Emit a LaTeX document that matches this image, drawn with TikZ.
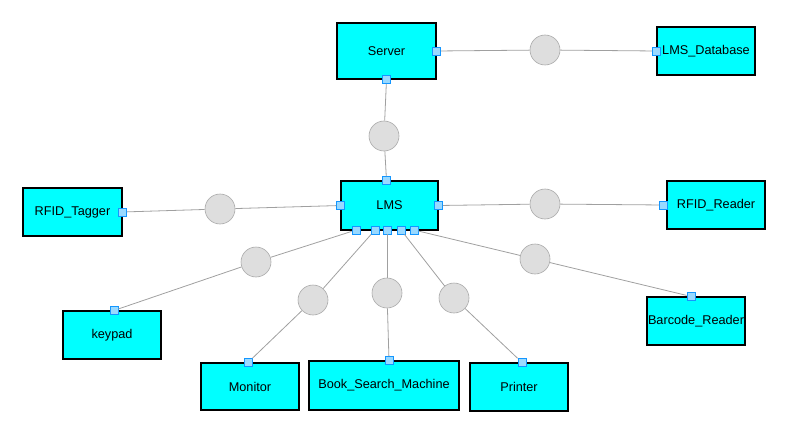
\documentclass[tikz,border=0pt]{standalone}
\usepackage{fontspec}
\setmainfont{Liberation Sans}
\usetikzlibrary{positioning}
\definecolor{boxfill}{RGB}{0,255,255}
\definecolor{portfill}{RGB}{153,217,255}
\definecolor{portline}{RGB}{20,150,255}
\definecolor{linkgray}{RGB}{160,160,160}
\definecolor{hubfill}{RGB}{222,222,222}
\definecolor{hubline}{RGB}{170,170,170}

\begin{document}
\begin{tikzpicture}[x=1pt,y=-1pt,-,
			box/.style={draw=black,line width=1.1pt,fill=boxfill,inner sep=0pt,
				minimum width=98pt,minimum height=48pt,
				font=\fontsize{12.7}{15}\selectfont},
			port/.style={draw=portline,line width=0.8pt,fill=portfill,inner sep=0pt,
				minimum size=8pt},
			hub/.style={circle,draw=hubline,line width=0.6pt,fill=hubfill,inner sep=0pt,
				minimum size=30pt},
			link/.style={draw=linkgray,line width=0.8pt}]
			
			\useasboundingbox (0,0) rectangle (797,441);
			
			% boxes
			\node[box,minimum width=99pt,minimum height=56pt] (server) at (386.5,51) {Server};
			\node[box] (db)     at (706,51)    {LMS\_Database};
			\node[box,minimum width=97pt,minimum height=49pt] (lms) at (389.5,205.5) {LMS};
			\node[box,minimum width=99pt] (tagger) at (72.5,212) {RFID\_Tagger};
			\node[box] (reader) at (716,205)   {RFID\_Reader};
			\node[box] (keypad) at (112,335)   {keypad};
			\node[box,minimum height=47pt] (monitor) at (250,386.5) {Monitor};
			\node[box,minimum width=150pt,minimum height=49pt] (search) at (384,385.5) {Book\_Search\_Machine};
			\node[box] (printer) at (519,387)  {Printer};
			\node[box] (barcode) at (696,321)  {Barcode\_Reader};
			
			% ports
			\node[port] (serverE) at (server.east) {};
			\node[port] (serverS) at (server.south) {};
			\node[port] (dbW)     at (db.west) {};
			\node[port] (lmsN)    at ([xshift=-3pt]lms.north) {};
			\node[port] (lmsW)    at (lms.west) {};
			\node[port] (lmsE)    at (lms.east) {};
			\node[port] (lmsS1)   at (356,230) {};
			\node[port] (lmsS2)   at (375,230) {};
			\node[port] (lmsS3)   at (387,230) {};
			\node[port] (lmsS4)   at (401,230) {};
			\node[port] (lmsS5)   at (414,230) {};
			\node[port] (taggerE) at (tagger.east) {};
			\node[port] (readerW) at ([xshift=-3pt]reader.west) {};
			\node[port] (keypadN) at ([xshift=2pt]keypad.north) {};
			\node[port] (monitorN) at ([xshift=-2pt]monitor.north) {};
			\node[port] (searchN) at ([xshift=5pt]search.north) {};
			\node[port] (printerN) at ([xshift=3pt]printer.north) {};
			\node[port] (barcodeN) at ([xshift=-5pt]barcode.north) {};
			
			% hubs
			\node[hub] (hubDb)      at (545,50)  {};
			\node[hub] (hubServer)  at (384,136) {};
			\node[hub] (hubTagger)  at (220,209) {};
			\node[hub] (hubReader)  at (545,204) {};
			\node[hub] (hubKeypad)  at (256,262) {};
			\node[hub] (hubMonitor) at (313,300) {};
			\node[hub] (hubSearch)  at (387,293) {};
			\node[hub] (hubPrinter) at (454,298) {};
			\node[hub] (hubBarcode) at (535,259) {};
			
			\path[link] (serverE) edge (hubDb)
			(hubDb) edge (dbW)
			(serverS) edge (hubServer)
			(hubServer) edge (lmsN)
			(taggerE) edge (hubTagger)
			(hubTagger) edge (lmsW)
			(lmsE) edge (hubReader)
			(hubReader) edge (readerW)
			(lmsS1) edge (hubKeypad)
			(hubKeypad) edge (keypadN)
			(lmsS2) edge (hubMonitor)
			(hubMonitor) edge (monitorN)
			(lmsS3) edge (hubSearch)
			(hubSearch) edge (searchN)
			(lmsS4) edge (hubPrinter)
			(hubPrinter) edge (printerN)
			(lmsS5) edge (hubBarcode)
			(hubBarcode) edge (barcodeN);
		\end{tikzpicture}
\end{document}
